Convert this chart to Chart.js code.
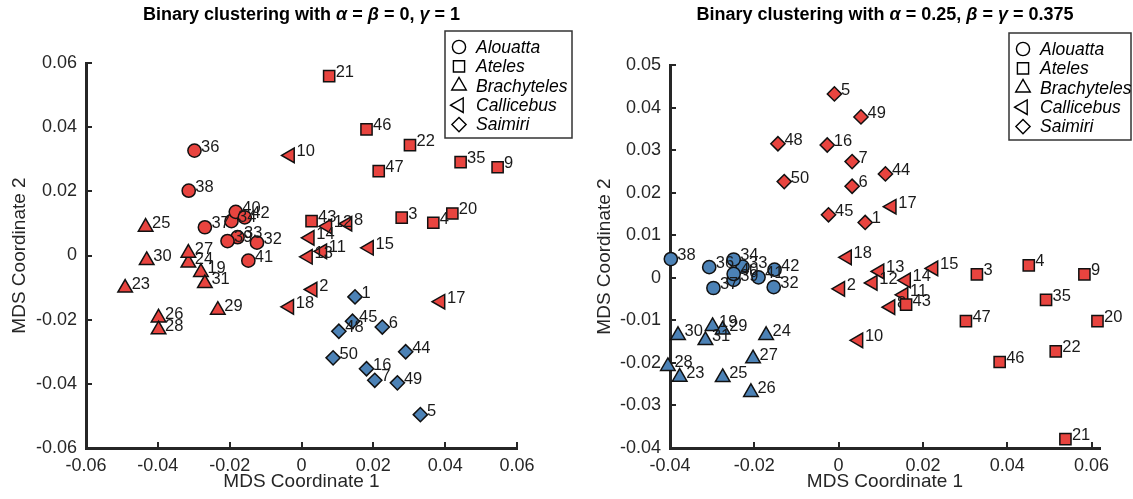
<!DOCTYPE html>
<html>
<head>
<meta charset="utf-8">
<script src="https://cdn.jsdelivr.net/npm/chart.js@4.4.1/dist/chart.umd.min.js"></script>
<style>
  body { margin: 0; background: #fff; }
  #wrap { position: relative; width: 1133px; height: 499px; overflow: hidden; }
  canvas { position: absolute; top: 0; }
  #left { left: 0; }
  #right { left: 580px; }
</style>
</head>
<body>
<div id="wrap">
  <canvas id="left" width="590" height="499"></canvas>
  <canvas id="right" width="553" height="499"></canvas>
</div>
<script>
// species (categories) and which species each specimen 1..50 belongs to
const species = ['Alouatta', 'Ateles', 'Brachyteles', 'Callicebus', 'Saimiri'];
const specimenIds = [1, 2, 3, 4, 5, 6, 7, 8, 9, 10, 11, 12, 13, 14, 15, 16, 17, 18, 19, 20,
  21, 22, 23, 24, 25, 26, 27, 28, 29, 30, 31, 32, 33, 34, 35, 36, 37, 38, 39, 40,
  41, 42, 43, 44, 45, 46, 47, 48, 49, 50];
const speciesOf = [4, 3, 1, 1, 4, 4, 4, 3, 1, 3, 3, 3, 3, 3, 3, 4, 3, 3, 2, 1,
  1, 1, 2, 2, 2, 2, 2, 2, 2, 2, 2, 0, 0, 0, 1, 0, 0, 0, 0, 0,
  0, 0, 1, 4, 4, 1, 1, 4, 4, 4];

// cluster of each species (0 = red, 1 = blue)
const leftClusterOfSpecies = [0, 0, 0, 0, 1];
const rightClusterOfSpecies = [1, 0, 1, 0, 0];

// MDS coordinates, alpha = beta = 0, gamma = 1
const leftX = [0.0149, 0.0031, 0.0279, 0.0367, 0.0331, 0.0225, 0.0204, 0.0128, 0.0546, -0.0032,
  0.0058, 0.0072, 0.0018, 0.0023, 0.0188, 0.0181, 0.0387, -0.0034, -0.0280, 0.0420,
  0.0077, 0.0302, -0.0491, -0.0315, -0.0434, -0.0398, -0.0315, -0.0398, -0.0233, -0.0431,
  -0.0269, -0.0124, -0.0178, -0.0195, 0.0443, -0.0298, -0.0269, -0.0314, -0.0206, -0.0183,
  -0.0148, -0.0158, 0.0028, 0.0290, 0.0142, 0.0181, 0.0215, 0.0104, 0.0267, 0.0088];
const leftY = [-0.0129, -0.0106, 0.0118, 0.0102, -0.0496, -0.0223, -0.0389, 0.0099, 0.0275, 0.0312,
  0.0013, 0.0091, -0.0004, 0.0055, 0.0024, -0.0353, -0.0144, -0.0160, -0.0052, 0.0131,
  0.0559, 0.0344, -0.0101, -0.0023, 0.0089, -0.0194, 0.0008, -0.0231, -0.0170, -0.0015,
  -0.0087, 0.0040, 0.0057, 0.0107, 0.0291, 0.0327, 0.0088, 0.0202, 0.0045, 0.0136,
  -0.0016, 0.0119, 0.0107, -0.0300, -0.0205, 0.0393, 0.0263, -0.0236, -0.0397, -0.0319];

// MDS coordinates, alpha = 0.25, beta = gamma = 0.375
const rightX = [0.0063, 0.0004, 0.0328, 0.0451, -0.0010, 0.0032, 0.0032, 0.0123, 0.0583, 0.0047,
  0.0154, 0.0081, 0.0097, 0.0160, 0.0225, -0.0027, 0.0126, 0.0020, -0.0299, 0.0614,
  0.0538, 0.0515, -0.0377, -0.0172, -0.0275, -0.0208, -0.0203, -0.0405, -0.0275, -0.0381,
  -0.0316, -0.0154, -0.0228, -0.0249, 0.0492, -0.0307, -0.0297, -0.0398, -0.0249, -0.0249,
  -0.0190, -0.0152, 0.0160, 0.0111, -0.0024, 0.0382, 0.0302, -0.0144, 0.0053, -0.0129];
const rightY = [0.0130, -0.0026, 0.0008, 0.0029, 0.0432, 0.0215, 0.0273, -0.0069, 0.0008, -0.0147,
  -0.0040, -0.0012, 0.0015, -0.0006, 0.0022, 0.0312, 0.0167, 0.0048, -0.0114, -0.0102,
  -0.0379, -0.0173, -0.0233, -0.0135, -0.0234, -0.0269, -0.0190, -0.0208, -0.0122, -0.0135,
  -0.0147, -0.0022, 0.0026, 0.0043, -0.0052, 0.0025, -0.0024, 0.0044, -0.0005, 0.0009,
  0.0001, 0.0019, -0.0063, 0.0244, 0.0148, -0.0198, -0.0102, 0.0315, 0.0378, 0.0226];

// tick values
const leftXTicks = [-0.06, -0.04, -0.02, 0, 0.02, 0.04, 0.06];
const leftYTicks = [-0.06, -0.04, -0.02, 0, 0.02, 0.04, 0.06];
const rightXTicks = [-0.04, -0.02, 0, 0.02, 0.04, 0.06];
const rightYTicks = [-0.04, -0.03, -0.02, -0.01, 0, 0.01, 0.02, 0.03, 0.04, 0.05];

const FONT = '"Liberation Sans", Arial, Helvetica, sans-serif';
const AXIS = '#262626';
const clusterColors = ['#e8443f', '#4c82b6'];
const markers = [
  { style: 'circle', radius: 6.6, rotation: 0 },
  { style: 'rect', radius: 7.9, rotation: 0 },
  { style: 'triangle', radius: 8.4, rotation: 0 },
  { style: 'triangle', radius: 8.4, rotation: -90 },
  { style: 'rectRot', radius: 7.1, rotation: 0 }
];

Chart.defaults.font.family = FONT;

function fmt(v) {
  return Math.abs(v) < 1e-9 ? '0' : v.toFixed(2);
}

function markerPath(ctx, m, x, y) {
  Chart.helpers.drawPoint(ctx, { pointStyle: m.style, radius: m.radius, rotation: m.rotation, borderWidth: 1.5 }, x, y);
}

const inwardTicks = {
  id: 'inwardTicks',
  beforeDatasetsDraw(chart) {
    const { ctx, chartArea: a, scales: { x, y } } = chart;
    ctx.save();
    ctx.strokeStyle = AXIS;
    ctx.lineWidth = 2;
    ctx.beginPath();
    x.ticks.forEach(t => {
      const px = Math.round(x.getPixelForValue(t.value));
      ctx.moveTo(px, a.bottom);
      ctx.lineTo(px, a.bottom - 6);
    });
    y.ticks.forEach(t => {
      const py = Math.round(y.getPixelForValue(t.value));
      ctx.moveTo(a.left, py);
      ctx.lineTo(a.left + 6, py);
    });
    ctx.stroke();
    ctx.restore();
  }
};

const pointLabels = {
  id: 'pointLabels',
  afterDatasetDraw(chart, args) {
    const ctx = chart.ctx;
    const ds = chart.data.datasets[args.index];
    ctx.save();
    ctx.font = '16.5px ' + FONT;
    ctx.fillStyle = '#1a1a1a';
    ctx.textAlign = 'left';
    ctx.textBaseline = 'alphabetic';
    args.meta.data.forEach((el, j) => {
      ctx.fillText(String(ds.data[j].id), el.x + 6.5, el.y + 1);
    });
    ctx.restore();
  }
};

const richTitle = {
  id: 'richTitle',
  afterDraw(chart, args, opts) {
    const { ctx, chartArea: a } = chart;
    ctx.save();
    ctx.fillStyle = '#000';
    ctx.textBaseline = 'alphabetic';
    ctx.textAlign = 'left';
    const fonts = opts.segments.map(s => (s[1] ? 'italic ' : '') + 'bold 18px ' + FONT);
    let total = 0;
    opts.segments.forEach((s, i) => { ctx.font = fonts[i]; total += ctx.measureText(s[0]).width; });
    let x = (a.left + a.right) / 2 - total / 2;
    opts.segments.forEach((s, i) => {
      ctx.font = fonts[i];
      ctx.fillText(s[0], x, 20);
      x += ctx.measureText(s[0]).width;
    });
    ctx.restore();
  }
};

const boxLegend = {
  id: 'boxLegend',
  afterDraw(chart, args, opts) {
    const ctx = chart.ctx;
    ctx.save();
    ctx.fillStyle = '#fff';
    ctx.fillRect(opts.x, opts.y, opts.w, opts.h);
    ctx.strokeStyle = '#333';
    ctx.lineWidth = 1.5;
    ctx.strokeRect(opts.x, opts.y, opts.w, opts.h);
    species.forEach((name, k) => {
      const cy = opts.y + 16 + k * 19.4;
      ctx.fillStyle = '#fff';
      ctx.strokeStyle = '#000';
      ctx.lineWidth = 1.4;
      markerPath(ctx, markers[k], opts.x + 14, cy);
      ctx.fillStyle = '#000';
      ctx.font = 'italic 17.5px ' + FONT;
      ctx.textBaseline = 'middle';
      ctx.fillText(name, opts.x + 31, cy + 1);
    });
    ctx.restore();
  }
};

function buildDatasets(xs, ys, clusterOfSpecies) {
  return species.map((name, k) => ({
    label: name,
    data: specimenIds.filter((id, i) => speciesOf[i] === k)
      .map(id => ({ x: xs[id - 1], y: ys[id - 1], id: id })),
    pointStyle: markers[k].style,
    pointRadius: markers[k].radius,
    pointRotation: markers[k].rotation,
    backgroundColor: clusterColors[clusterOfSpecies[k]],
    borderColor: '#111',
    borderWidth: 1.5,
    showLine: false,
    clip: false
  }));
}

function axis(min, max, ticks, size, title, titlePad, isX) {
  return {
    type: 'linear',
    min: min,
    max: max,
    afterBuildTicks: s => { s.ticks = ticks.map(v => ({ value: v })); },
    afterFit: s => { if (isX) s.height = size; else s.width = size; },
    grid: { display: false, drawTicks: false },
    border: { display: true, color: AXIS, width: 3 },
    ticks: {
      color: AXIS,
      font: { size: 18 },
      padding: isX ? 7 : 9,
      maxRotation: 0,
      autoSkip: false,
      callback: v => fmt(v)
    },
    title: {
      display: true,
      text: title,
      color: AXIS,
      font: { size: 19 },
      padding: isX ? { bottom: 5.6, top: 0 } : { top: titlePad, bottom: 0 }
    }
  };
}

function makeChart(id, cfg) {
  return new Chart(document.getElementById(id), {
    type: 'scatter',
    data: { datasets: buildDatasets(cfg.xs, cfg.ys, cfg.clusters) },
    options: {
      responsive: false,
      animation: false,
      events: [],
      layout: { padding: cfg.padding },
      scales: {
        x: axis(cfg.xRange[0], cfg.xRange[1], cfg.xTicks, 51, 'MDS Coordinate 1', 0, true),
        y: axis(cfg.yRange[0], cfg.yRange[1], cfg.yTicks, cfg.yWidth, 'MDS Coordinate 2', cfg.yTitlePad, false)
      },
      plugins: {
        legend: { display: false },
        tooltip: { enabled: false },
        title: { display: false },
        richTitle: { segments: cfg.title },
        boxLegend: cfg.legendBox
      }
    },
    plugins: [inwardTicks, pointLabels, richTitle, boxLegend]
  });
}

makeChart('left', {
  xs: leftX, ys: leftY, clusters: leftClusterOfSpecies,
  xRange: [-0.06, 0.06], yRange: [-0.06, 0.06],
  xTicks: leftXTicks, yTicks: leftYTicks,
  padding: { top: 63, right: 73, left: 0, bottom: 0 },
  yWidth: 86, yTitlePad: 8.6,
  title: [['Binary clustering with ', false], ['\u03b1', true], [' = ', false], ['\u03b2', true],
    [' = 0, ', false], ['\u03b3', true], [' = 1', false]],
  legendBox: { x: 445, y: 31, w: 127, h: 107 }
});

makeChart('right', {
  xs: rightX, ys: rightY, clusters: rightClusterOfSpecies,
  xRange: [-0.04, 0.062], yRange: [-0.04, 0.05],
  xTicks: rightXTicks, yTicks: rightYTicks,
  padding: { top: 65, right: 33, left: 0, bottom: 0 },
  yWidth: 90, yTitlePad: 13.6,
  title: [['Binary clustering with ', false], ['\u03b1', true], [' = 0.25, ', false], ['\u03b2', true],
    [' = ', false], ['\u03b3', true], [' = 0.375', false]],
  legendBox: { x: 429, y: 33, w: 122, h: 107 }
});
</script>
</body>
</html>
